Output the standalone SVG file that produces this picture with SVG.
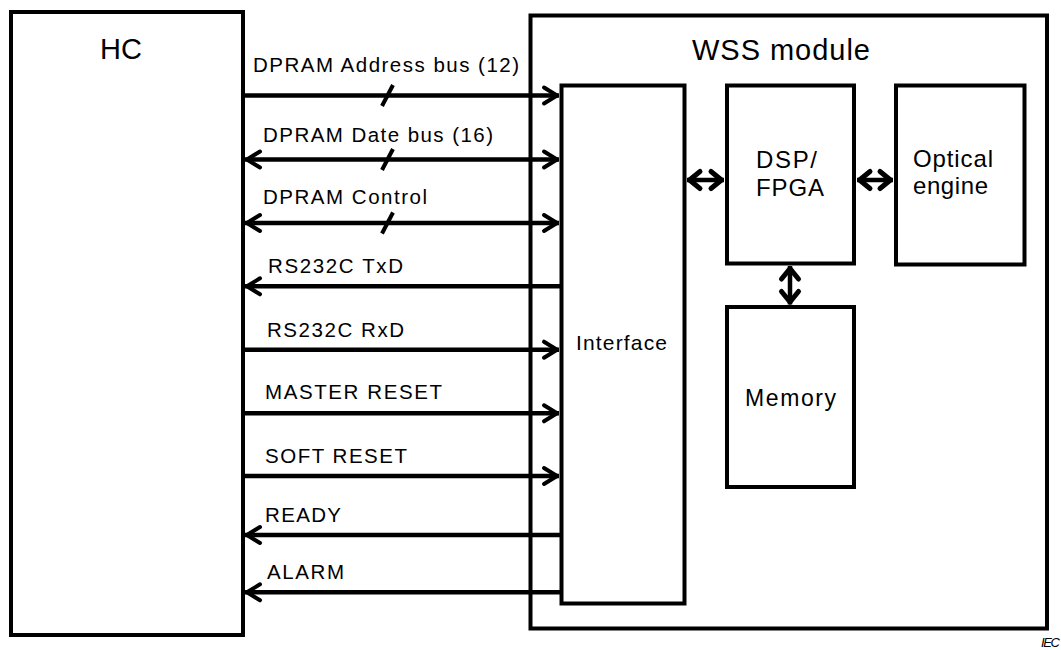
<svg xmlns="http://www.w3.org/2000/svg" width="1061" height="650" viewBox="0 0 1061 650">
<style>
.box{fill:none;stroke:#000;stroke-width:4}
.ln{fill:none;stroke:#000;stroke-width:4.5}
.sl{fill:none;stroke:#000;stroke-width:4}
.lbl{font-family:"Liberation Sans",Arial,sans-serif;font-size:20.5px;fill:#000}
.big{font-family:"Liberation Sans",Arial,sans-serif;font-size:29px;fill:#000}
.mid{font-family:"Liberation Sans",Arial,sans-serif;font-size:24px;fill:#000}
.iec{font-family:"Liberation Sans",Arial,sans-serif;font-size:13px;font-style:italic;fill:#000}
</style>
<defs>
<marker id="ah" markerUnits="userSpaceOnUse" markerWidth="20" markerHeight="20" viewBox="-20 -10 20 20" refX="0" refY="0" orient="auto-start-reverse" overflow="visible">
<path d="M-15,-8 L-2,0 L-15,8" fill="none" stroke="#000" stroke-width="4" stroke-linejoin="round" stroke-linecap="round"/>
</marker>
<marker id="ah2" markerUnits="userSpaceOnUse" markerWidth="24" markerHeight="24" viewBox="-24 -12 24 24" refX="0" refY="0" orient="auto-start-reverse" overflow="visible">
<path d="M-13,-8.5 L-2.5,0 L-13,8.5" fill="none" stroke="#000" stroke-width="5" stroke-linejoin="round" stroke-linecap="round"/>
</marker>
</defs>
<rect width="1061" height="650" fill="#fff"/>

<g id="hc">
<rect class="box" x="11" y="12" width="232" height="623"/>
<text class="big" x="100" y="59" textLength="42">HC</text>
</g>

<g id="wss">
<rect class="box" x="530.5" y="15.5" width="516.5" height="613"/>
<text class="big" x="692" y="60" textLength="178">WSS module</text>
</g>

<g id="interface">
<rect class="box" x="561.5" y="85.5" width="123" height="518"/>
<text class="lbl" style="font-size:21px" x="576" y="350" textLength="91">Interface</text>
</g>

<g id="dsp">
<rect class="box" x="727" y="85.5" width="127" height="178"/>
<text class="mid" x="756" y="168" textLength="61">DSP/</text>
<text class="mid" x="756" y="196" textLength="68">FPGA</text>
</g>

<g id="optical">
<rect class="box" x="896" y="85.5" width="128.5" height="179"/>
<text class="mid" x="913" y="167" textLength="80">Optical</text>
<text class="mid" x="913" y="194" textLength="75">engine</text>
</g>

<g id="memory">
<rect class="box" x="727" y="307" width="127" height="180"/>
<text class="mid" style="font-size:23px" x="745" y="406" textLength="91">Memory</text>
</g>

<g id="connectors">
<line class="ln" x1="243" y1="95.5" x2="559" y2="95.5" marker-end="url(#ah)"/>
<line class="sl" x1="382" y1="106" x2="393" y2="85"/>
<line class="ln" x1="245" y1="159.5" x2="559" y2="159.5" marker-start="url(#ah)" marker-end="url(#ah)"/>
<line class="sl" x1="382" y1="170" x2="393" y2="149"/>
<line class="ln" x1="245" y1="223" x2="559" y2="223" marker-start="url(#ah)" marker-end="url(#ah)"/>
<line class="sl" x1="382" y1="233.5" x2="393" y2="212.5"/>
<line class="ln" x1="245" y1="286.3" x2="561" y2="286.3" marker-start="url(#ah)"/>
<line class="ln" x1="243" y1="349.7" x2="559" y2="349.7" marker-end="url(#ah)"/>
<line class="ln" x1="243" y1="413.3" x2="559" y2="413.3" marker-end="url(#ah)"/>
<line class="ln" x1="243" y1="476" x2="559" y2="476" marker-end="url(#ah)"/>
<line class="ln" x1="245" y1="535" x2="561" y2="535" marker-start="url(#ah)"/>
<line class="ln" x1="245" y1="592.3" x2="561" y2="592.3" marker-start="url(#ah)"/>

<line class="ln" x1="687" y1="180" x2="724" y2="180" marker-start="url(#ah2)" marker-end="url(#ah2)"/>
<line class="ln" x1="857" y1="180" x2="893" y2="180" marker-start="url(#ah2)" marker-end="url(#ah2)"/>
<line class="ln" x1="790" y1="266" x2="790" y2="304.5" marker-start="url(#ah2)" marker-end="url(#ah2)"/>

<text class="lbl" x="253" y="72" textLength="266">DPRAM Address bus (12)</text>
<text class="lbl" x="263" y="142" textLength="230">DPRAM Date bus (16)</text>
<text class="lbl" x="263" y="204" textLength="164">DPRAM Control</text>
<text class="lbl" x="268" y="272.5" textLength="135">RS232C TxD</text>
<text class="lbl" x="267" y="337" textLength="137">RS232C RxD</text>
<text class="lbl" x="265" y="399" textLength="177">MASTER RESET</text>
<text class="lbl" x="265" y="463" textLength="142">SOFT RESET</text>
<text class="lbl" x="265" y="522" textLength="76">READY</text>
<text class="lbl" x="267" y="579" textLength="77">ALARM</text>
</g>

<text class="iec" x="1041" y="647" textLength="19">IEC</text>
</svg>
